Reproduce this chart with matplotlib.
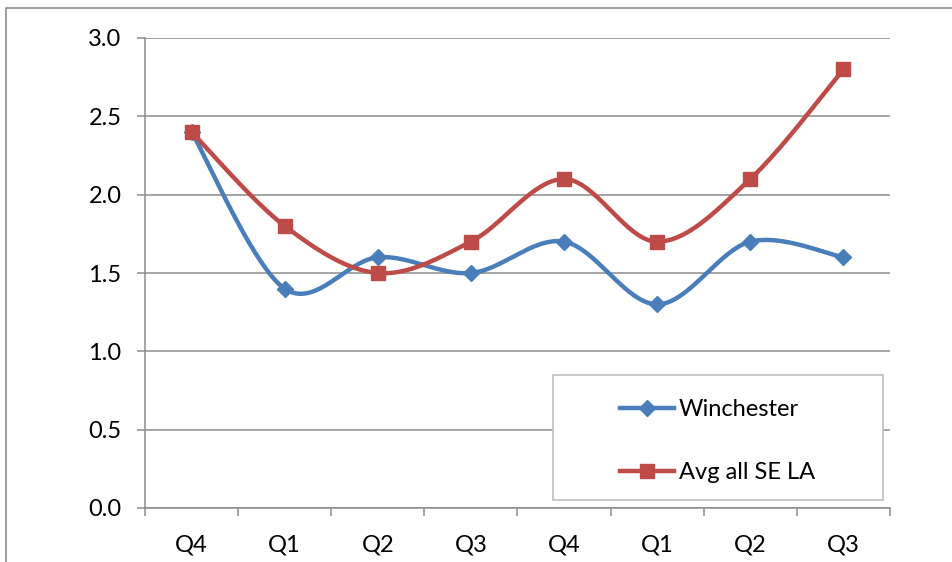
import numpy as np
import matplotlib
matplotlib.use("Agg")
import matplotlib.pyplot as plt
from matplotlib.lines import Line2D
from matplotlib.patches import Rectangle

quarters = ["Q4", "Q1", "Q2", "Q3", "Q4", "Q1", "Q2", "Q3"]
winchester = [2.4, 1.4, 1.6, 1.5, 1.7, 1.3, 1.7, 1.6]
avg_se_la = [2.4, 1.8, 1.5, 1.7, 2.1, 1.7, 2.1, 2.8]
y_ticks = [0.0, 0.5, 1.0, 1.5, 2.0, 2.5, 3.0]

BLUE = "#4A7EBB"
RED = "#BE4B48"
GRID = "#8C8C8C"
FONT = "Lato"

plt.rcParams["font.family"] = [FONT, "DejaVu Sans"]


def smooth(xs, ys, n=40):
    """Cardinal (Catmull-Rom) Bezier smoothing through every point."""
    p = np.column_stack([xs, ys]).astype(float)
    ext = np.vstack([p[0], p, p[-1]])
    out = []
    t = np.linspace(0, 1, n)[:, None]
    for i in range(len(p) - 1):
        p0, p1, p2, p3 = ext[i], ext[i + 1], ext[i + 2], ext[i + 3]
        c1 = p1 + (p2 - p0) / 6.0
        c2 = p2 - (p3 - p1) / 6.0
        seg = ((1 - t) ** 3) * p1 + 3 * ((1 - t) ** 2) * t * c1 + 3 * (1 - t) * t ** 2 * c2 + t ** 3 * p2
        out.append(seg if i == 0 else seg[1:])
    seg = np.vstack(out)
    return seg[:, 0], seg[:, 1]


W, H = 953, 562
fig = plt.figure(figsize=(W / 100, H / 100), dpi=100)

# outer chart frame (left and top edges)
fig.add_artist(Line2D([6 / W, 6 / W, 1.0], [0.0, 1 - 8 / H, 1 - 8 / H],
                      transform=fig.transFigure, color=GRID, lw=1.2))

ax = fig.add_axes([145 / W, 1 - 508 / H, (890 - 145) / W, (508 - 38) / H])

x = np.arange(len(quarters)) + 0.5
for vals, col, mk, ms in [(winchester, BLUE, "D", 8), (avg_se_la, RED, "s", 9.5)]:
    sx, sy = smooth(x, vals)
    ax.plot(sx, sy, color=col, lw=3.2, solid_capstyle="round", zorder=3)
    ax.plot(x, vals, linestyle="none", marker=mk, ms=ms, color=col, zorder=4)

ax.set_xlim(0, len(quarters))
ax.set_ylim(0, 3.0)
ax.set_yticks(y_ticks)
ax.set_yticklabels([f"{v:.1f}" for v in y_ticks])
ax.set_xticks(np.arange(len(quarters) + 1))
ax.set_xticklabels([])
ax.set_xticks(x, minor=True)
ax.set_xticklabels(quarters, minor=True)

ax.grid(axis="y", color=GRID, lw=1.1)
ax.set_axisbelow(True)
for s in ["top", "right"]:
    ax.spines[s].set_visible(False)
for s in ["left", "bottom"]:
    ax.spines[s].set_color(GRID)
    ax.spines[s].set_linewidth(1.1)

ax.tick_params(axis="y", direction="out", length=6, width=1.1, color=GRID,
               pad=11, labelsize=17, labelcolor="black")
ax.tick_params(axis="x", which="major", direction="out", length=6, width=1.1, color=GRID)
ax.tick_params(axis="x", which="minor", length=0, pad=19, labelsize=17, labelcolor="black")

# legend
fig.add_artist(Rectangle((553 / W, 1 - 500 / H), (883 - 553) / W, (500 - 375) / H,
                         transform=fig.transFigure, facecolor="white",
                         edgecolor="#BFBFBF", lw=1.2, zorder=5))
handles = [Line2D([], [], color=BLUE, lw=3.2, marker="D", ms=8),
           Line2D([], [], color=RED, lw=3.2, marker="s", ms=9.5)]
leg = fig.legend(handles, ["Winchester", "Avg all SE LA"], loc="upper left",
                 bbox_to_anchor=(608 / W, 1 - 387 / H), frameon=False,
                 fontsize=17, handlelength=2.3, handletextpad=0.2,
                 labelspacing=1.8, borderpad=0.0)
leg.set_zorder(6)

fig.savefig("out.png", dpi=100)
